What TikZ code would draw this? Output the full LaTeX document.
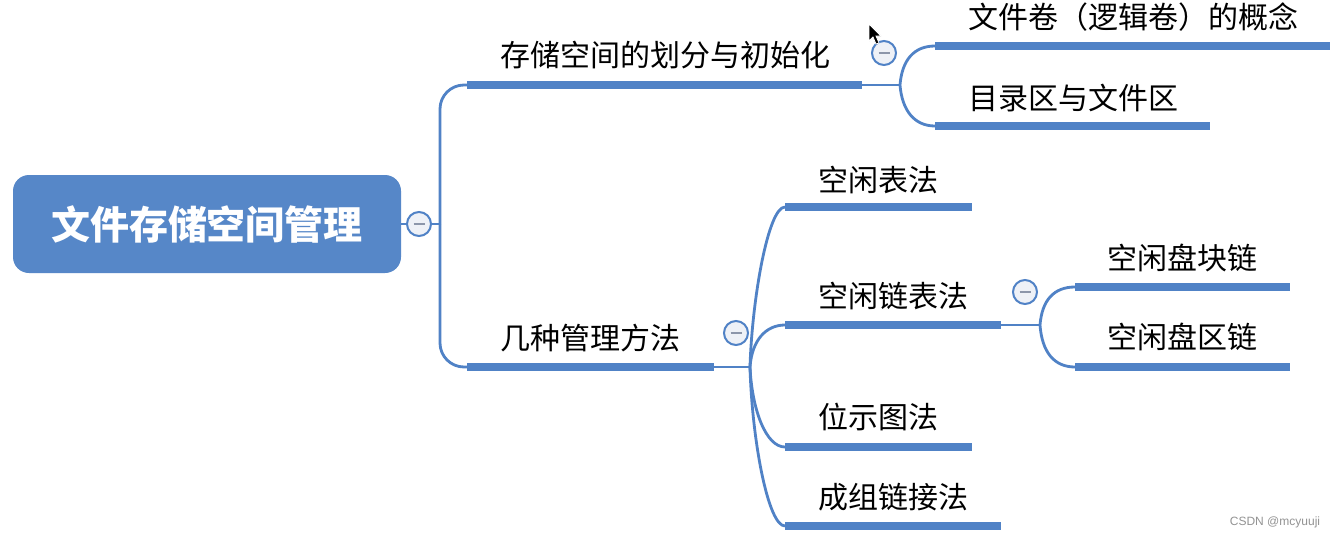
\documentclass[tikz,border=0pt]{standalone}
\usepackage{fontspec}
\setmainfont{Noto Sans CJK SC}
\newfontfamily\wmfont{Liberation Sans}
\definecolor{barblue}{RGB}{80,130,198}
\definecolor{rootblue}{RGB}{86,135,200}
\definecolor{circfill}{RGB}{238,241,247}
\definecolor{minusgray}{RGB}{140,150,170}
\tikzset{
  bar/.style={line width=7.5pt, draw=barblue},
  conn/.style={line width=2.8pt, draw=barblue},
  topic/.style={anchor=west, inner sep=0pt, font=\fontsize{30}{36}\selectfont, text=black},
  collapse/.style={circle, draw=barblue, line width=2pt, fill=circfill, minimum size=24pt, inner sep=0pt},
}
\newcommand{\minusmark}[1]{\draw[minusgray, line width=2.2pt] ([xshift=-5.5pt]#1.center) -- ([xshift=5.5pt]#1.center);}
\begin{document}
\begin{tikzpicture}[x=1pt, y=-1pt]
\useasboundingbox (0,0) rectangle (1334,539);
\fill[white] (0,0) rectangle (1334,539);

% root
\node[fill=rootblue, rounded corners=16pt, minimum width=388pt, minimum height=98pt, inner sep=0pt,
      text=white, font=\fontsize{39}{45}\selectfont\bfseries] (root) at (207,224) {文件存储空间管理};
\node[collapse] (c0) at (419,224) {};
\minusmark{c0}
\draw[conn] (root.east) -- (c0.west);
\coordinate (trunk) at (440,224);
\draw[conn] (c0.east) -- (trunk);

% branch 1
\coordinate (b1s) at (467,85);
\coordinate (b1e) at (862,85);
\coordinate (f1) at (900,85);
\node[topic] (t1) at (500,55) {存储空间的划分与初始化};
\draw[conn, rounded corners=24pt] (trunk) |- (b1s);
\draw[bar] (b1s) -- (b1e);
\draw[conn] (b1e) -- (f1);
\node[collapse] (c1) at (884,53) {};
\minusmark{c1}

\coordinate (l1s) at (935,46);
\coordinate (l1e) at (1330,46);
\node[topic] (t11) at (968,17) {文件卷（逻辑卷）的概念};
\draw[bar] (l1s) -- (l1e);
\coordinate (l2s) at (935,126);
\coordinate (l2e) at (1210,126);
\node[topic] (t12) at (968,98) {目录区与文件区};
\draw[bar] (l2s) -- (l2e);
\draw[conn] (f1) .. controls (902,60) and (914,46) .. (l1s);
\draw[conn] (f1) .. controls (902,110) and (914,126) .. (l2s);

% branch 2
\coordinate (b2s) at (467,367);
\coordinate (b2e) at (714,367);
\coordinate (f2) at (750,367);
\node[topic] (t2) at (500,338) {几种管理方法};
\draw[conn, rounded corners=24pt] (trunk) |- (b2s);
\draw[bar] (b2s) -- (b2e);
\draw[conn] (b2e) -- (f2);
\node[collapse] (c2) at (736,333) {};
\minusmark{c2}

\coordinate (m1s) at (785,207);  \coordinate (m1e) at (972,207);
\coordinate (m2s) at (785,325);  \coordinate (m2e) at (1001,325);
\coordinate (m3s) at (785,447);  \coordinate (m3e) at (972,447);
\coordinate (m4s) at (785,526);  \coordinate (m4e) at (1001,526);
\node[topic] (t21) at (818,180) {空闲表法};
\node[topic] (t22) at (818,296) {空闲链表法};
\node[topic] (t23) at (818,417) {位示图法};
\node[topic] (t24) at (818,497) {成组链接法};
\draw[bar] (m1s) -- (m1e);
\draw[bar] (m2s) -- (m2e);
\draw[bar] (m3s) -- (m3e);
\draw[bar] (m4s) -- (m4e);
\draw[conn] (f2) .. controls (752,300) and (768,207) .. (m1s);
\draw[conn] (f2) .. controls (752,340) and (766,325) .. (m2s);
\draw[conn] (f2) .. controls (752,410) and (766,447) .. (m3s);
\draw[conn] (f2) .. controls (752,440) and (768,526) .. (m4s);

% sub-branch
\coordinate (f3) at (1040,325);
\draw[conn] (m2e) -- (f3);
\node[collapse] (c3) at (1025,292) {};
\minusmark{c3}
\coordinate (s1s) at (1075,287); \coordinate (s1e) at (1290,287);
\coordinate (s2s) at (1075,367); \coordinate (s2e) at (1290,367);
\node[topic] (t221) at (1107,258) {空闲盘块链};
\node[topic] (t222) at (1107,337) {空闲盘区链};
\draw[bar] (s1s) -- (s1e);
\draw[bar] (s2s) -- (s2e);
\draw[conn] (f3) .. controls (1042,300) and (1054,287) .. (s1s);
\draw[conn] (f3) .. controls (1042,352) and (1054,367) .. (s2s);

% mouse cursor
\draw[fill=black, draw=white, line width=0.8pt] (869,24) -- (869,41) -- (873,37) -- (876,44) -- (879,43) -- (876,36) -- (881,36) -- cycle;

% watermark
\node[anchor=center, inner sep=0pt, text=gray!85, font=\wmfont\fontsize{12}{14}\selectfont] (wm) at (1275,522) {CSDN @mcyuuji};
\end{tikzpicture}
\end{document}
